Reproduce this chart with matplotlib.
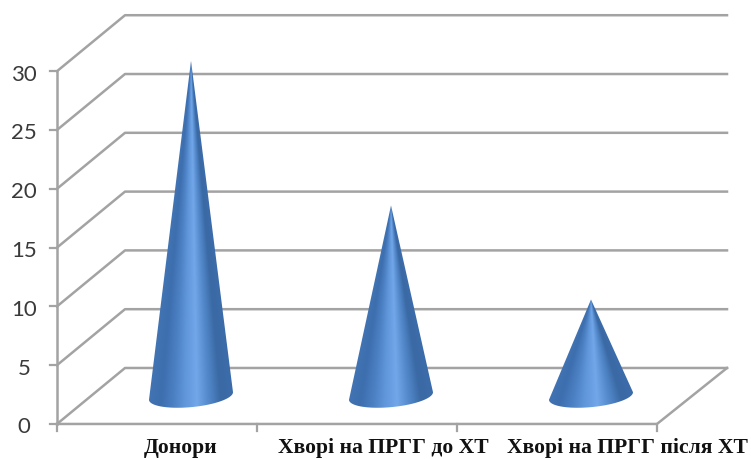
import numpy as np
import matplotlib
matplotlib.use("Agg")
from matplotlib import pyplot as plt
from matplotlib.colors import LinearSegmentedColormap
from matplotlib.patches import Polygon

categories = ["Донори", "Хворі на ПРГГ до ХТ", "Хворі на ПРГГ після ХТ"]
values = [28.5, 16.2, 8.2]
y_ticks = [0, 5, 10, 15, 20, 25, 30]

# floor offset of the 3d box, in axis units
depth_x = 0.34
depth_y = 4.76
cone_radius = 0.21
label_x = [0.62, 1.63, 2.85]

grid_color = "#a3a3a3"
cone_cmap = LinearSegmentedColormap.from_list(
    "cone", ["#4274b4", "#3d6eae", "#4a7fc2", "#6096da", "#72a8ea", "#5288ca", "#3a69a4", "#3c6caa"]
)

fig = plt.figure(figsize=(7.51, 4.60), dpi=100)
ax = fig.add_axes([0, 0, 1, 1])
ax.axis("off")

# walls and floor
for tick in y_ticks:
    ax.plot([0, depth_x, 3 + depth_x + 0.01], [tick, tick + depth_y, tick + depth_y],
            color=grid_color, lw=1.8, solid_joinstyle="round", zorder=1)
ax.plot([0, 3, 3 + depth_x + 0.01], [0, 0, depth_y], color=grid_color, lw=1.8, zorder=1)
ax.plot([0, 0], [0, 30], color=grid_color, lw=1.8, zorder=1)

# tick marks and tick labels
for tick in y_ticks:
    ax.plot([-0.035, 0], [tick, tick], color=grid_color, lw=1.6, zorder=1)
    ax.text(-0.165, tick - 0.2, str(tick), ha="center", va="center", fontsize=16,
            family="Lato", color="#3a3a3a")
for pos in range(4):
    ax.plot([pos, pos], [0, -0.6], color=grid_color, lw=1.6, zorder=1)

# cones, each one a gradient image clipped to its outline
for pos, value in enumerate(values):
    cx = pos + 0.5 + depth_x / 2
    cy = depth_y / 2
    angle = np.linspace(0, np.pi, 60)
    rim_x = cx + cone_radius * np.cos(angle)
    rim_y = cy + 0.32 * np.cos(angle) - 0.95 * np.sin(angle)
    outline = np.column_stack([np.r_[cx, rim_x], np.r_[cy + value, rim_y]])

    # shading follows the cone surface, so it narrows towards the tip
    bottom = cy - 1.5
    xs = np.linspace(cx - cone_radius, cx + cone_radius, 200)
    ys = np.linspace(bottom, cy + value, 300)
    grid_x, grid_y = np.meshgrid(xs, ys)
    width = cone_radius * np.clip((cy + value - grid_y) / value, 0.005, None)
    shade = np.clip((grid_x - cx) / width * 0.5 + 0.5, 0, 1)

    image = ax.imshow(shade, cmap=cone_cmap, aspect="auto", zorder=2, origin="lower",
                      extent=[xs[0], xs[-1], ys[0], ys[-1]], vmin=0, vmax=1)
    image.set_clip_path(Polygon(outline, closed=True, transform=ax.transData))

for x, label in zip(label_x, categories):
    ax.text(x, -1.95, label, ha="center", va="center", fontsize=15.6, fontweight="bold",
            family="Liberation Serif", color="#111111")

ax.set_xlim(-0.285, 3.47)
ax.set_ylim(-2.98, 36.14)
fig.savefig("out.png", dpi=100)
